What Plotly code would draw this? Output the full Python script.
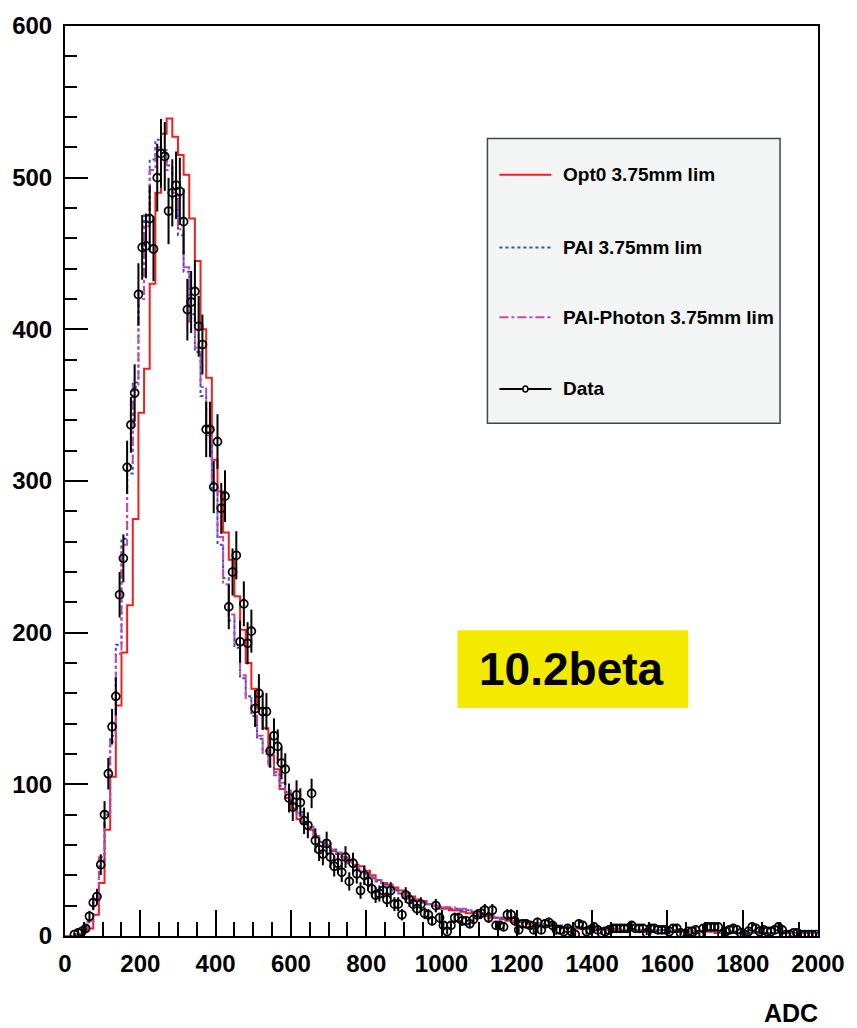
import numpy as np
import plotly.graph_objects as go

# ---------------------------------------------------------------------------
# Histogram contents
# ---------------------------------------------------------------------------
SIM_BIN = 15.0          # ADC width of the simulated histogram bins (start at 0)
DATA_BIN = 10.0         # ADC width of the measured histogram bins
DATA_FIRST_CENTER = 25.0

opt0 = [
    0, 0, 1, 3, 5, 14, 35, 70, 105, 152,
    187, 218, 275, 345, 374, 430, 490, 529, 539, 527,
    515, 502, 473, 445, 400, 368, 314, 293, 266, 248,
    224, 202, 180, 163, 150, 137, 119, 110, 97, 91,
    84, 77, 74, 70, 65, 62, 60, 56, 54, 52,
    50, 47, 46, 43, 40, 37, 35, 34, 32, 30,
    28, 26, 24, 23, 21, 20, 18, 18, 17, 17,
    16, 15, 15, 14, 13, 12, 12, 11, 10, 9,
    9, 9, 8, 8, 7, 7, 7, 6, 6, 6,
    5, 5, 5, 5, 5, 5, 4, 5, 4, 4,
    4, 4, 4, 4, 4, 4, 4, 3, 4, 3,
    3, 3, 3, 3, 3, 2, 3, 2, 2, 2,
    2, 2, 2, 2, 2, 2, 2, 2, 2, 2,
    2, 2, 2, 2,
]

pai = [
    0, 0, 1, 4, 9, 23, 50, 82, 132, 192,
    262, 305, 365, 425, 475, 512, 525, 518, 508, 486,
    462, 438, 410, 385, 356, 326, 294, 258, 236, 208,
    190, 170, 158, 145, 130, 122, 112, 108, 99, 95,
    87, 82, 75, 71, 67, 62, 61, 57, 54, 51,
    48, 46, 44, 41, 38, 36, 34, 33, 30, 28,
    26, 24, 23, 22, 21, 20, 19, 19, 18, 18,
    17, 17, 16, 15, 14, 13, 12, 12, 11, 10,
    10, 9, 9, 8, 8, 8, 7, 7, 6, 6,
    6, 5, 5, 5, 5, 5, 4, 4, 4, 4,
    4, 4, 4, 4, 4, 4, 4, 3, 3, 3,
    3, 3, 3, 3, 3, 3, 3, 2, 2, 2,
    2, 2, 2, 2, 2, 2, 2, 2, 2, 2,
    2, 2, 2, 2,
]

pai_photon = [
    0, 0, 1, 4, 10, 22, 52, 80, 128, 186,
    258, 310, 362, 420, 468, 505, 520, 516, 505, 490,
    466, 441, 405, 388, 362, 330, 298, 263, 232, 212,
    192, 172, 157, 147, 132, 120, 113, 106, 101, 96,
    88, 81, 76, 72, 66, 63, 60, 57, 55, 52,
    49, 46, 43, 40, 39, 37, 35, 33, 31, 28,
    25, 24, 23, 22, 21, 20, 20, 19, 19, 18,
    18, 17, 16, 15, 14, 13, 12, 12, 11, 10,
    10, 9, 9, 8, 8, 7, 7, 7, 6, 6,
    6, 5, 5, 5, 5, 5, 4, 4, 4, 4,
    4, 4, 4, 4, 4, 4, 4, 3, 3, 4,
    3, 3, 3, 3, 3, 3, 2, 3, 2, 2,
    2, 2, 2, 2, 2, 2, 2, 2, 2, 2,
    2, 2, 2, 2,
]

# measured counts, bin centres 25, 35, 45, ... 1995
data_counts = [
    1, 2, 3, 5, 13, 22, 26, 47, 80, 107,                 # 25 - 115
    138, 158, 225, 249, 309, 337, 358, 423, 454, 455,    # 125 - 215
    473, 453, 500, 516, 514, 478, 490, 495, 491, 471,    # 225 - 315
    413, 418, 425, 402, 390, 334, 334, 296, 326, 282,    # 325 - 415
    290, 217, 240, 251, 194, 219, 193, 201, 150, 160,    # 425 - 515
    148, 148, 122, 132, 125, 114, 110, 91, 85, 93,       # 525 - 615
    88, 76, 73, 94, 63, 57, 54, 61, 52, 46,              # 625 - 715
    48, 42, 52, 36, 48, 41, 30, 40, 36, 31,              # 725 - 815
    27, 28, 30, 24, 30, 21, 21, 14, 27, 24,              # 825 - 915
    21, 18, 21, 15, 14, 10, 20, 12, 7, 3,                # 925 - 1015
    7, 12, 12, 10, 10, 8, 11, 14, 15, 17,                # 1025 - 1115
    12, 17, 7, 7, 6, 14, 14, 10, 4, 8,                   # 1125 - 1215
    8, 7, 4, 9, 4, 8, 9, 7, 4, 4,                        # 1225 - 1315
    3, 5, 3, 1, 8, 7, 3, 4, 6, 4,                        # 1325 - 1415
    2, 3, 4, 5, 5, 5, 5, 5, 7, 5,                        # 1425 - 1515
    5, 5, 2, 5, 5, 4, 4, 4, 3, 5,                        # 1525 - 1615
    5, 2, 1, 3, 3, 4, 1, 5, 6, 6,                        # 1625 - 1715
    6, 6, 1, 3, 4, 5, 4, 2, 1, 3,                        # 1725 - 1815
    6, 5, 3, 4, 3, 3, 4, 6, 4, 1,                        # 1825 - 1915
    1, 2, 2, 1, 1, 1, 1, 1,                              # 1925 - 1995
]

x_ticks = [0, 200, 400, 600, 800, 1000, 1200, 1400, 1600, 1800, 2000]
y_ticks = [0, 100, 200, 300, 400, 500, 600]

legend_labels = ["Opt0 3.75mm lim", "PAI 3.75mm lim", "PAI-Photon 3.75mm lim", "Data"]
tag_text = "10.2beta"

# ---------------------------------------------------------------------------
# Styling
# ---------------------------------------------------------------------------
W, H = 857, 1028
M_L, M_R, M_T, M_B = 64, 39, 22, 92
PLOT_W = W - M_L - M_R
PLOT_H = H - M_T - M_B

RED = "rgb(240,32,32)"
BLUE = "rgb(48,80,200)"
MAGENTA = "rgb(196,72,176)"
NARROW = "Liberation Sans Narrow, Arial Narrow, Liberation Sans, Arial, sans-serif"


def paper(px, py):
    """Window pixel -> paper coordinates of the plotting area."""
    return (px - M_L) / PLOT_W, (M_T + PLOT_H - py) / PLOT_H


def step_outline(values):
    edges = np.arange(len(values) + 1) * SIM_BIN
    xs = list(edges)
    ys = list(values) + [values[-1]]
    return xs, ys


fig = go.Figure()

for vals, color, dash, name in [
    (opt0, RED, "solid", legend_labels[0]),
    (pai, BLUE, "dot", legend_labels[1]),
    (pai_photon, MAGENTA, "dashdot", legend_labels[2]),
]:
    sx, sy = step_outline(vals)
    fig.add_trace(go.Scatter(
        x=sx, y=sy, mode="lines", name=name,
        line=dict(color=color, width=2, dash=dash, shape="hv"),
        showlegend=False, hoverinfo="skip",
    ))

data_x = DATA_FIRST_CENTER + DATA_BIN * np.arange(len(data_counts))
data_y = np.array(data_counts, dtype=float)
fig.add_trace(go.Scatter(
    x=data_x, y=data_y, mode="markers", name=legend_labels[3],
    marker=dict(symbol="circle-open", size=8, color="black", line=dict(width=1.7, color="black")),
    error_y=dict(type="data", array=np.sqrt(data_y), visible=True,
                 thickness=2, width=0, color="black"),
    showlegend=False,
))

# ---------------------------------------------------------------------------
# Legend box drawn by hand (ROOT TLegend look)
# ---------------------------------------------------------------------------
shapes = []
annotations = []

lx0, ly0 = paper(487, 135)
lx1, ly1 = paper(780, 421)
shapes.append(dict(type="rect", xref="paper", yref="paper", x0=lx0, y0=ly1, x1=lx1, y1=ly0,
                   fillcolor="rgb(243,244,244)", line=dict(color="rgb(70,70,70)", width=1.5),
                   layer="above"))

entry_rows = [171.5, 244.5, 314.5, 386.5]
entry_styles = [(RED, "solid"), (BLUE, "dot"), (MAGENTA, "dashdot"), ("black", "solid")]
for label, row, (color, dash) in zip(legend_labels, entry_rows, entry_styles):
    ax0, ay = paper(499, row)
    ax1, _ = paper(551, row)
    shapes.append(dict(type="line", xref="paper", yref="paper", x0=ax0, x1=ax1, y0=ay, y1=ay,
                       line=dict(color=color, width=2, dash=dash), layer="above"))
    tx, _ = paper(561, row)
    annotations.append(dict(text=label, xref="paper", yref="paper", x=tx, y=ay,
                            xanchor="left", yanchor="middle", showarrow=False,
                            font=dict(family=NARROW, size=19, color="black", weight="bold")))

# small marker on the "Data" sample line
cx, cy = paper(525, entry_rows[3])
rx = 2.5 / PLOT_W
ry = 3.0 / PLOT_H
shapes.append(dict(type="circle", xref="paper", yref="paper",
                   x0=cx - rx, x1=cx + rx, y0=cy - ry, y1=cy + ry,
                   fillcolor="rgb(243,244,244)", line=dict(color="black", width=1.5), layer="above"))

# yellow tag
bx0, by0 = paper(457, 629)
bx1, by1 = paper(688, 707)
shapes.append(dict(type="rect", xref="paper", yref="paper", x0=bx0, y0=by1, x1=bx1, y1=by0,
                   fillcolor="rgb(244,234,0)", line=dict(width=0), layer="above"))
tx, ty = paper(571, 668)
annotations.append(dict(text=tag_text, xref="paper", yref="paper", x=tx, y=ty,
                        xanchor="center", yanchor="middle", showarrow=False,
                        font=dict(family="Liberation Sans, Arial, sans-serif", size=46,
                                  color="black", weight="bold")))

# x-axis title, right aligned under the frame
annotations.append(dict(text="ADC", xref="paper", yref="paper", x=paper(820, 0)[0],
                        y=paper(0, 1013)[1],
                        xanchor="right", yanchor="middle", showarrow=False,
                        font=dict(family=NARROW, size=25, color="black", weight="bold")))

tick_font = dict(family=NARROW, size=24, color="black", weight="bold")

fig.update_layout(
    width=W, height=H,
    margin=dict(l=M_L, r=M_R, t=M_T, b=M_B),
    paper_bgcolor="white", plot_bgcolor="white",
    shapes=shapes, annotations=annotations,
    showlegend=False,
    xaxis=dict(
        range=[0, 2000], tickvals=x_ticks, ticktext=[str(v) for v in x_ticks],
        ticks="inside", ticklen=26, tickwidth=1.8, tickcolor="black",
        minor=dict(ticks="inside", ticklen=14, tickwidth=1.6, tickcolor="black",
                   tickvals=[v for v in range(0, 2001, 50) if v % 200]),
        showline=True, linecolor="black", linewidth=2, mirror=True,
        showgrid=False, zeroline=False, tickfont=tick_font, ticklabelstandoff=5,
    ),
    yaxis=dict(
        range=[0, 600], tickvals=y_ticks, ticktext=[str(v) for v in y_ticks],
        ticks="inside", ticklen=23, tickwidth=1.8, tickcolor="black",
        minor=dict(ticks="inside", ticklen=12, tickwidth=1.6, tickcolor="black",
                   tickvals=[v for v in range(0, 601, 20) if v % 100]),
        showline=True, linecolor="black", linewidth=2, mirror=True,
        showgrid=False, zeroline=False, tickfont=tick_font, ticklabelstandoff=6,
    ),
)

fig.write_html("out.html")
